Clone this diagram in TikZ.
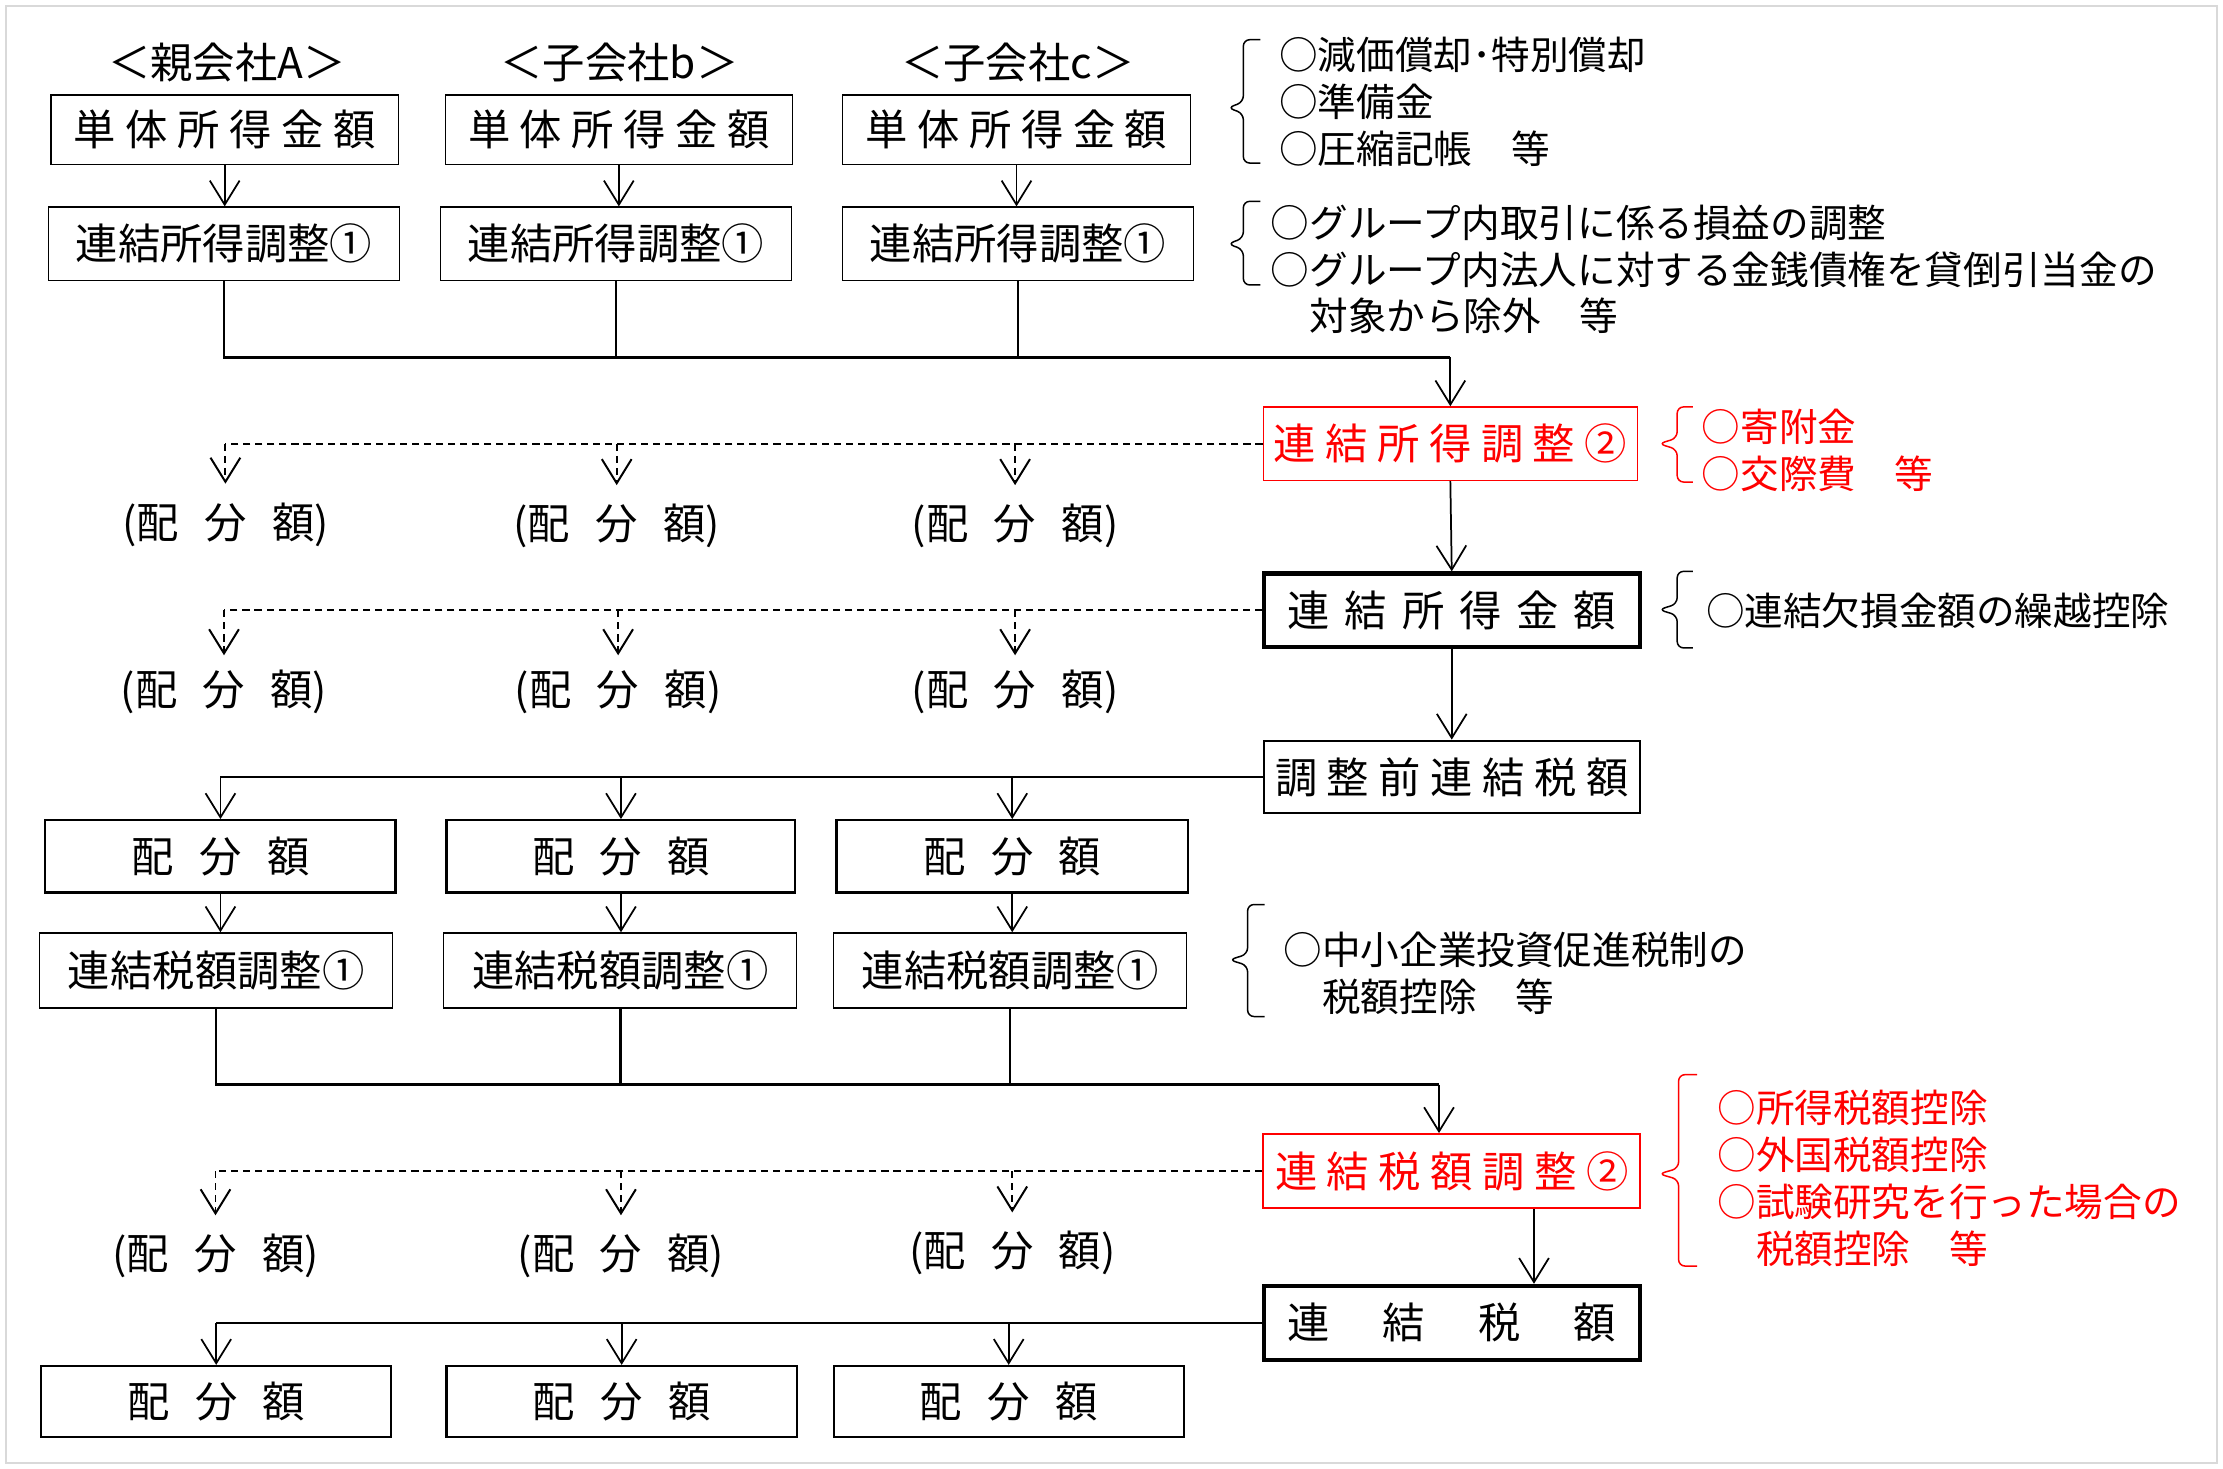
\documentclass[tikz,border=0pt]{standalone}
\usepackage{fontspec}
\setmainfont{Noto Sans CJK JP}
\usetikzlibrary{arrows.meta}
\newcommand{\boxfont}{\fontsize{17}{20}\selectfont}
\newcommand{\notefont}{\fontsize{15.5}{18.8}\selectfont}
\newcommand{\haibun}{配\hspace{.6em}分\hspace{.6em}額}
\tikzset{>={Straight Barb[length=3.4mm,width=4.2mm]}}
\tikzset{
  box/.style={draw, inner sep=0pt, font=\boxfont},
  thinbox/.style={box, line width=0.5pt},
  midbox/.style={box, line width=0.9pt},
  heavybox/.style={box, line width=1.7pt},
  redbox/.style={box, draw=red, text=red},
  head/.style={inner sep=0pt, font=\boxfont},
  share/.style={inner sep=0pt, font=\boxfont},
  note/.style={anchor=west, align=left, inner sep=0pt, font=\notefont},
  link/.style={line width=0.7pt},
  merge/.style={line width=1pt},
  dashlink/.style={line width=0.8pt, dash pattern=on 1mm off 0.7mm},
  bkt/.style={line width=0.6pt, rounded corners=0.9mm},
  frame/.style={draw=black!15, line width=0.8pt}
}
\begin{document}
\begin{tikzpicture}[x=0.2mm, y=-0.2mm]
\useasboundingbox (0,0) rectangle (1568,1036);
\draw[frame] (4,4) rectangle (1564,1032);

\node[head] (hA) at (160,44) {＜親会社A＞};
\node[head] (hB) at (437,44) {＜子会社b＞};
\node[head] (hC) at (718,44) {＜子会社c＞};

\node[thinbox, minimum width=49mm, minimum height=9.8mm] (sA) at (158.5,91.5) {単 体 所 得 金 額};
\node[thinbox, minimum width=49mm, minimum height=9.8mm] (sB) at (436.5,91.5) {単 体 所 得 金 額};
\node[thinbox, minimum width=49mm, minimum height=9.8mm] (sC) at (717,91.5) {単 体 所 得 金 額};

\node[thinbox, minimum width=49.6mm, minimum height=10.4mm] (aA) at (158,172) {連結所得調整①};
\node[thinbox, minimum width=49.6mm, minimum height=10.4mm] (aB) at (434.5,172) {連結所得調整①};
\node[thinbox, minimum width=49.6mm, minimum height=10.4mm] (aC) at (718,172) {連結所得調整①};

\node[redbox, line width=0.5pt, minimum width=52.8mm, minimum height=10.4mm] (cadj) at (1023,313) {連 結 所 得 調 整 ②};
\node[heavybox, minimum width=53mm, minimum height=10.4mm] (cinc) at (1024,430.5) {連\hspace{.35em}結\hspace{.35em}所\hspace{.35em}得\hspace{.35em}金\hspace{.35em}額};
\node[midbox, minimum width=53mm, minimum height=10.2mm] (pre) at (1024,548) {調 整 前 連 結 税 額};

\node[midbox, minimum width=49.4mm, minimum height=10.2mm] (pA) at (155.5,604) {\haibun};
\node[midbox, minimum width=49.2mm, minimum height=10.2mm] (pB) at (438,604) {\haibun};
\node[midbox, minimum width=49.6mm, minimum height=10.2mm] (pC) at (714,604) {\haibun};

\node[thinbox, minimum width=49.8mm, minimum height=10.6mm] (tA) at (152.5,684.5) {連結税額調整①};
\node[thinbox, minimum width=49.8mm, minimum height=10.6mm] (tB) at (437.5,684.5) {連結税額調整①};
\node[thinbox, minimum width=49.8mm, minimum height=10.6mm] (tC) at (712.5,684.5) {連結税額調整①};

\node[redbox, line width=0.9pt, minimum width=53.2mm, minimum height=10.4mm] (tadj) at (1024,826) {連 結 税 額 調 整 ②};
\node[heavybox, minimum width=53mm, minimum height=10.4mm] (ctax) at (1024,933) {連\hspace{1.25em}結\hspace{1.25em}税\hspace{1.25em}額};

\node[midbox, minimum width=49.4mm, minimum height=10mm] (fA) at (152.5,988.5) {\haibun};
\node[midbox, minimum width=49.4mm, minimum height=10mm] (fB) at (438.5,988.5) {\haibun};
\node[midbox, minimum width=49.4mm, minimum height=10mm] (fC) at (711.5,988.5) {\haibun};

\node[share] (dA1) at (159,370) {(\haibun)};
\node[share] (dB1) at (435,371) {(\haibun)};
\node[share] (dC1) at (716,371) {(\haibun)};
\node[share] (dA2) at (158,488) {(\haibun)};
\node[share] (dB2) at (436,488) {(\haibun)};
\node[share] (dC2) at (716,488) {(\haibun)};
\node[share] (dA3) at (152,886) {(\haibun)};
\node[share] (dB3) at (438,886) {(\haibun)};
\node[share] (dC3) at (714,884) {(\haibun)};

\draw[link,->] (sA.south) -- (sA.south |- aA.north);
\draw[link,->] (sB.south) -- (sB.south |- aB.north);
\draw[link,->] (sC.south) -- (sC.south |- aC.north);

\coordinate (m1) at (1023,252);
\draw[merge] (aA.south) |- (m1);
\draw[merge] (aB.south) -- (aB.south |- m1);
\draw[merge] (aC.south) -- (aC.south |- m1);
\draw[link,->] (m1) -- (cadj.north);

\draw[dashlink] (cadj.west) -- (cadj.west -| dA1);
\draw[dashlink,->,shorten >=2.6mm] (cadj.west -| dA1) -- (dA1.north);
\draw[dashlink,->,shorten >=2.6mm] (cadj.west -| dB1) -- (dB1.north);
\draw[dashlink,->,shorten >=2.6mm] (cadj.west -| dC1) -- (dC1.north);

\draw[link,->] (cadj.south) -- (cinc.north);

\draw[dashlink] (cinc.west) -- (cinc.west -| dA2);
\draw[dashlink,->,shorten >=2mm] (cinc.west -| dA2) -- (dA2.north);
\draw[dashlink,->,shorten >=2mm] (cinc.west -| dB2) -- (dB2.north);
\draw[dashlink,->,shorten >=2mm] (cinc.west -| dC2) -- (dC2.north);

\draw[link,->] (cinc.south) -- (pre.north);

\draw[link] (pre.west) -- (pre.west -| pA);
\draw[link,->] (pre.west -| pA) -- (pA.north);
\draw[link,->] (pre.west -| pB) -- (pB.north);
\draw[link,->] (pre.west -| pC) -- (pC.north);

\draw[link,->] (pA.south) -- (pA.south |- tA.north);
\draw[link,->] (pB.south) -- (pB.south |- tB.north);
\draw[link,->] (pC.south) -- (pC.south |- tC.north);

\coordinate (m2) at (1015,765);
\draw[merge] (tA.south) |- (m2);
\draw[merge] (tB.south) -- (tB.south |- m2);
\draw[merge] (tC.south) -- (tC.south |- m2);
\draw[link,->] (m2) -- (m2 |- tadj.north);

\draw[dashlink] (tadj.west) -- (tadj.west -| dA3);
\draw[dashlink,->,shorten >=2.6mm] (tadj.west -| dA3) -- (dA3.north);
\draw[dashlink,->,shorten >=2.6mm] (tadj.west -| dB3) -- (dB3.north);
\draw[dashlink,->,shorten >=2.6mm] (tadj.west -| dC3) -- (dC3.north);

\coordinate (k) at (1082,0);
\draw[link,->] (tadj.south -| k) -- (ctax.north -| k);

\draw[link] (ctax.west) -- (ctax.west -| fA);
\draw[link,->] (ctax.west -| fA) -- (fA.north);
\draw[link,->] (ctax.west -| fB) -- (fB.north);
\draw[link,->] (ctax.west -| fC) -- (fC.north);

\draw[bkt] (889,28) -- (877,28) -- (877,72) -- (866,76) -- (877,80) -- (877,115) -- (889,115);
\node[note] (n1) at (902,72) {○減価償却･特別償却\\○準備金\\○圧縮記帳　等};
\draw[bkt] (889,142) -- (877,142) -- (877,168) -- (866,172) -- (877,176) -- (877,201) -- (889,201);
\node[note] (n2) at (896,190) {○グループ内取引に係る損益の調整\\○グループ内法人に対する金銭債権を貸倒引当金の\\　対象から除外　等};
\draw[bkt, red] (1194,287) -- (1183,287) -- (1183,309) -- (1170,313) -- (1183,317) -- (1183,340) -- (1194,340);
\node[note, text=red] (n3) at (1200,317.5) {○寄附金\\○交際費　等};
\draw[bkt] (1194,403) -- (1183,403) -- (1183,426) -- (1170,430) -- (1183,434) -- (1183,457) -- (1194,457);
\node[note] (n4) at (1203,431) {○連結欠損金額の繰越控除};
\draw[bkt] (892,638) -- (880,638) -- (880,673) -- (867,677) -- (880,681) -- (880,717) -- (892,717);
\node[note] (n5) at (905,686.5) {○中小企業投資促進税制の\\　税額控除　等};
\draw[bkt, red] (1197,758) -- (1184,758) -- (1184,824) -- (1170,828) -- (1184,832) -- (1184,893) -- (1197,893);
\node[note, text=red] (n6) at (1211,831) {○所得税額控除\\○外国税額控除\\○試験研究を行った場合の\\　税額控除　等};
\end{tikzpicture}
\end{document}
